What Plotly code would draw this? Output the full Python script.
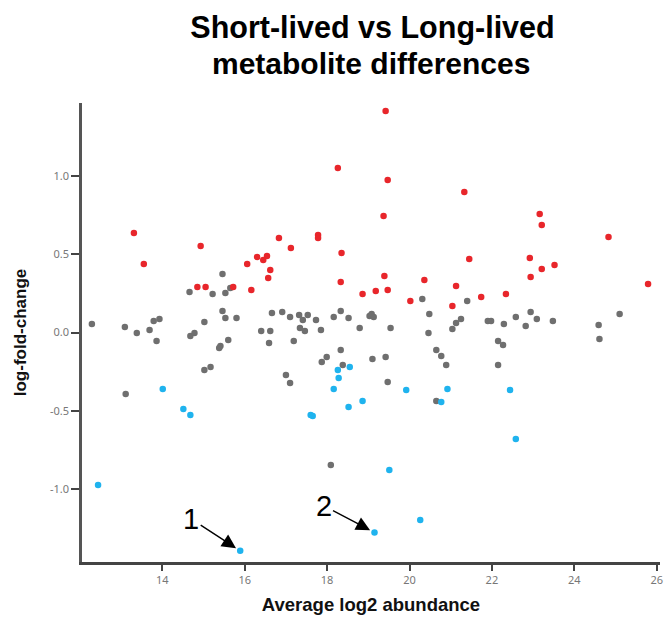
import plotly.graph_objects as go

# Up-regulated (red)
red_x = [13.31, 13.55, 14.93, 14.85, 15.05, 15.72, 16.16, 16.06, 16.30, 16.54, 16.45,
         16.62, 16.57, 16.83, 17.12, 17.78, 17.78, 18.26, 18.35, 19.42, 19.47, 19.37,
         18.33, 18.86, 19.18, 19.39, 19.47, 20.02, 20.36, 21.33, 23.16, 23.21, 24.83,
         21.45, 22.92, 23.52, 23.21, 21.13, 21.04, 21.74, 22.34, 22.94, 25.79]
red_y = [0.635, 0.437, 0.552, 0.290, 0.290, 0.290, 0.271, 0.437, 0.482, 0.488, 0.462,
         0.399, 0.348, 0.603, 0.539, 0.622, 0.603, 1.049, 0.507, 1.413, 0.973, 0.743,
         0.322, 0.246, 0.265, 0.360, 0.271, 0.201, 0.335, 0.896, 0.756, 0.686, 0.609,
         0.469, 0.475, 0.430, 0.405, 0.297, 0.169, 0.226, 0.246, 0.354, 0.309]

# Not significant (grey)
grey_x = [15.46, 14.66, 15.22, 15.53, 15.65, 15.46, 15.53, 15.80, 15.02, 12.29, 13.09,
          13.38, 13.69, 13.79, 13.93, 13.86, 14.68, 14.78, 15.60, 15.41, 15.38, 15.02,
          15.17, 13.11, 16.40, 16.66, 16.91, 17.10, 17.32, 17.53, 17.41, 17.73, 17.34,
          17.46, 17.85, 16.62, 16.59, 17.19, 18.16, 18.33, 18.52, 18.79, 19.03, 19.08,
          19.13, 19.54, 20.31, 20.48, 20.46, 18.33, 17.99, 17.87, 18.38, 19.10, 19.42,
          17.00, 17.10, 19.47, 20.65, 20.77, 20.89, 20.65, 21.40, 21.25, 21.13, 21.04,
          21.90, 21.98, 22.29, 22.58, 22.94, 23.09, 22.82, 23.48, 22.15, 22.27, 22.15,
          24.59, 24.61, 25.10, 18.09]
grey_y = [0.373, 0.258, 0.246, 0.252, 0.284, 0.137, 0.092, 0.092, 0.067, 0.054, 0.035,
          -0.003, 0.016, 0.073, 0.086, -0.054, -0.022, -0.003, -0.048, -0.086, -0.099, -0.239,
          -0.220, -0.392, 0.010, 0.124, 0.131, 0.099, 0.112, 0.112, 0.080, 0.080, 0.029,
          0.010, 0.016, 0.010, -0.067, -0.054, 0.099, 0.137, 0.092, 0.029, 0.105, 0.118,
          0.099, 0.029, 0.214, 0.118, -0.003, -0.112, -0.156, -0.188, -0.207, -0.169, -0.156,
          -0.271, -0.322, -0.316, -0.112, -0.150, -0.207, -0.437, 0.201, 0.086, 0.061, 0.022,
          0.073, 0.073, 0.054, 0.099, 0.131, 0.086, 0.041, 0.073, -0.054, -0.080, -0.207,
          0.048, -0.041, 0.118, -0.845]

# Down-regulated (blue)
blue_x = [14.01, 14.51, 14.68, 17.60, 17.65, 18.26, 18.55, 18.28, 18.16, 18.52, 18.86,
          19.92, 20.92, 20.77, 22.44, 22.58, 19.51, 20.26, 19.15, 12.44, 15.89]
blue_y = [-0.360, -0.488, -0.526, -0.526, -0.533, -0.239, -0.220, -0.290, -0.360, -0.475, -0.437,
          -0.367, -0.360, -0.443, -0.367, -0.679, -0.877, -1.196, -1.276, -0.973, -1.393]

# labelled points: (label, index into blue arrays)
labels = [("1", 20), ("2", 18)]

x_ticks = [14, 16, 18, 20, 22, 24, 26]
y_ticks = [-1.0, -0.5, 0.0, 0.5, 1.0]
y_ticktext = ["-1.0", "-0.5", "0.0", "0.5", "1.0"]

fig = go.Figure()
for xs, ys, col in [(grey_x, grey_y, "#6f6f6f"), (red_x, red_y, "#e8262b"), (blue_x, blue_y, "#1fb3ee")]:
    fig.add_trace(go.Scatter(x=xs, y=ys, mode="markers",
                             marker=dict(color=col, size=6.5, line=dict(width=0)),
                             showlegend=False, hoverinfo="x+y"))

annotations = []
offsets = {"1": (-49, -32), "2": (-51, -27)}
for lab, idx in labels:
    ax, ay = offsets[lab]
    annotations.append(dict(
        x=blue_x[idx], y=blue_y[idx], xref="x", yref="y", text=lab,
        showarrow=True, ax=ax, ay=ay, arrowhead=2, arrowsize=2.0, arrowwidth=1.4,
        arrowcolor="black", standoff=5,
        font=dict(family="Liberation Sans, Arial", size=29, color="black")))

annotations.append(dict(
    x=0.5, y=1.087, xref="paper", yref="paper", xanchor="center", yanchor="middle",
    text="<b>metabolite differences</b>", showarrow=False,
    font=dict(family="Liberation Sans, Arial", size=30, color="black")))

fig.update_layout(
    width=667, height=626,
    margin=dict(l=82, r=4, t=103, b=64),
    paper_bgcolor="white", plot_bgcolor="white",
    title=dict(text="<b>Short-lived vs Long-lived</b>", x=0.5585, xref="container",
               xanchor="center", y=1 - 27 / 626, yanchor="middle", yref="container",
               font=dict(family="Liberation Sans, Arial", size=30.5, color="black")),
    annotations=annotations,
    xaxis=dict(range=[12.05, 26.08], tickvals=x_ticks, ticks="outside", ticklen=6,
               tickwidth=1.5, tickcolor="#444", showline=True, linecolor="#444",
               linewidth=2.5, showgrid=False, zeroline=False,
               tickfont=dict(family="Noto Sans", size=11, color="#777"),
               title=dict(text="<b>Average log2 abundance</b>", standoff=13,
                          font=dict(family="Liberation Sans, Arial", size=18.5, color="#111"))),
    yaxis=dict(range=[-1.464, 1.464], tickvals=y_ticks, ticktext=y_ticktext,
               ticks="outside", ticklen=8, tickwidth=1.5, tickcolor="#444",
               showline=True, linecolor="#555", linewidth=2.5, showgrid=False,
               zeroline=False,
               tickfont=dict(family="Noto Sans", size=11, color="#777"),
               title=dict(text="<b>log-fold-change</b>", standoff=20,
                          font=dict(family="Liberation Sans, Arial", size=17, color="#111"))),
)

fig.write_html("out.html")
